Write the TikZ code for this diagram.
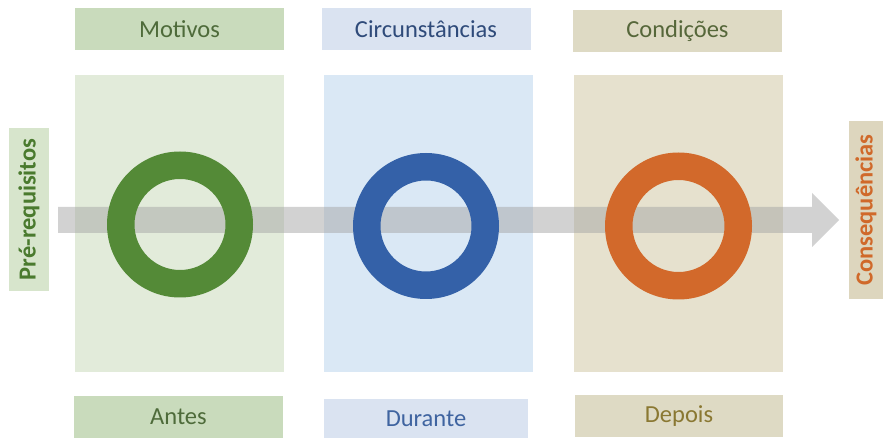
\documentclass[tikz,border=0pt]{standalone}
\usepackage{fontspec}
\setmainfont{Carlito}
\definecolor{gpanel}{HTML}{E2EBDA}
\definecolor{gbox}{HTML}{C9DBBC}
\definecolor{gtext}{HTML}{4E6B3A}
\definecolor{bpanel}{HTML}{DAE8F5}
\definecolor{bbox}{HTML}{DAE3F1}
\definecolor{btext}{HTML}{2F4B7A}
\definecolor{btext2}{HTML}{3F64A0}
\definecolor{tpanel}{HTML}{E6E1CE}
\definecolor{tbox}{HTML}{DEDAC4}
\definecolor{ttext}{HTML}{56673A}
\definecolor{ttext2}{HTML}{8A7832}
\definecolor{ring1}{HTML}{548A37}
\definecolor{ring2}{HTML}{3461A8}
\definecolor{ring3}{HTML}{D2692B}
\definecolor{sidegbox}{HTML}{D7E5CC}
\definecolor{sidegtext}{HTML}{4A7A2E}
\definecolor{sidetbox}{HTML}{DDD6BE}
\definecolor{sidettext}{HTML}{D0692A}
\definecolor{arrowgray}{HTML}{A6A6A6}
\tikzset{
  panel/.style={draw=none, minimum width=209pt, minimum height=297pt, inner sep=0pt},
  labelbox/.style={draw=none, minimum width=209pt, minimum height=42pt, inner sep=0pt, font=\fontsize{24.5pt}{28pt}\selectfont},
  sidebox/.style={draw=none, rotate=90, inner sep=0pt, font=\fontsize{24.5pt}{28pt}\selectfont\bfseries},
  ring/.style={even odd rule}
}
\begin{document}
\begin{tikzpicture}[x=1pt,y=-1pt]
\useasboundingbox (0,0) rectangle (884,438);
\fill[white] (0,0) rectangle (884,438);
% panels
\node[panel, fill=gpanel] (p1) at (179.5,223.5) {};
\node[panel, fill=bpanel] (p2) at (428,223.5) {};
\node[panel, fill=tpanel] (p3) at (678,223.5) {};
% top labels
\node[labelbox, fill=gbox, text=gtext] (t1) at (179.5,29.5) {Motivos};
\node[labelbox, fill=bbox, text=btext] (t2) at (426,29.5) {Circunstâncias};
\node[labelbox, fill=tbox, text=ttext] (t3) at (677.5,31) {Condições};
% bottom labels
\node[labelbox, fill=gbox, text=gtext, minimum height=41pt] (b1) at (178.5,417) {Antes};
\node[labelbox, fill=bbox, text=btext2, minimum width=204pt, minimum height=40pt] (b2) at (426,419) {Durante};
\node[labelbox, fill=tbox, text=ttext2, minimum width=208pt] (b3) at (679,416) {Depois};
% side labels
\node[sidebox, fill=sidegbox, text=sidegtext, minimum width=163pt, minimum height=40pt] (s1) at (29,209.5) {Pré-requisitos};
\node[sidebox, fill=sidetbox, text=sidettext, minimum width=178pt, minimum height=34pt] (s2) at (866,210) {Consequências};
% arrow
\coordinate (a0) at (58,220);
\coordinate (tip) at (839,220);
\fill[arrowgray, opacity=0.5] (a0) ++(0,-13) -- (812,207) -- (812,193) -- (tip) -- (812,247) -- (812,233) -- (58,233) -- cycle;
% rings
\fill[ring1, ring] (180,224.5) circle[radius=73] (180,224.5) circle[radius=45.5];
\fill[ring2, ring] (426,226) circle[radius=73] (426,226) circle[radius=45.5];
\fill[ring3, ring] (678.5,226) circle[radius=73.5] (678.5,226) circle[radius=46];
\end{tikzpicture}
\end{document}
